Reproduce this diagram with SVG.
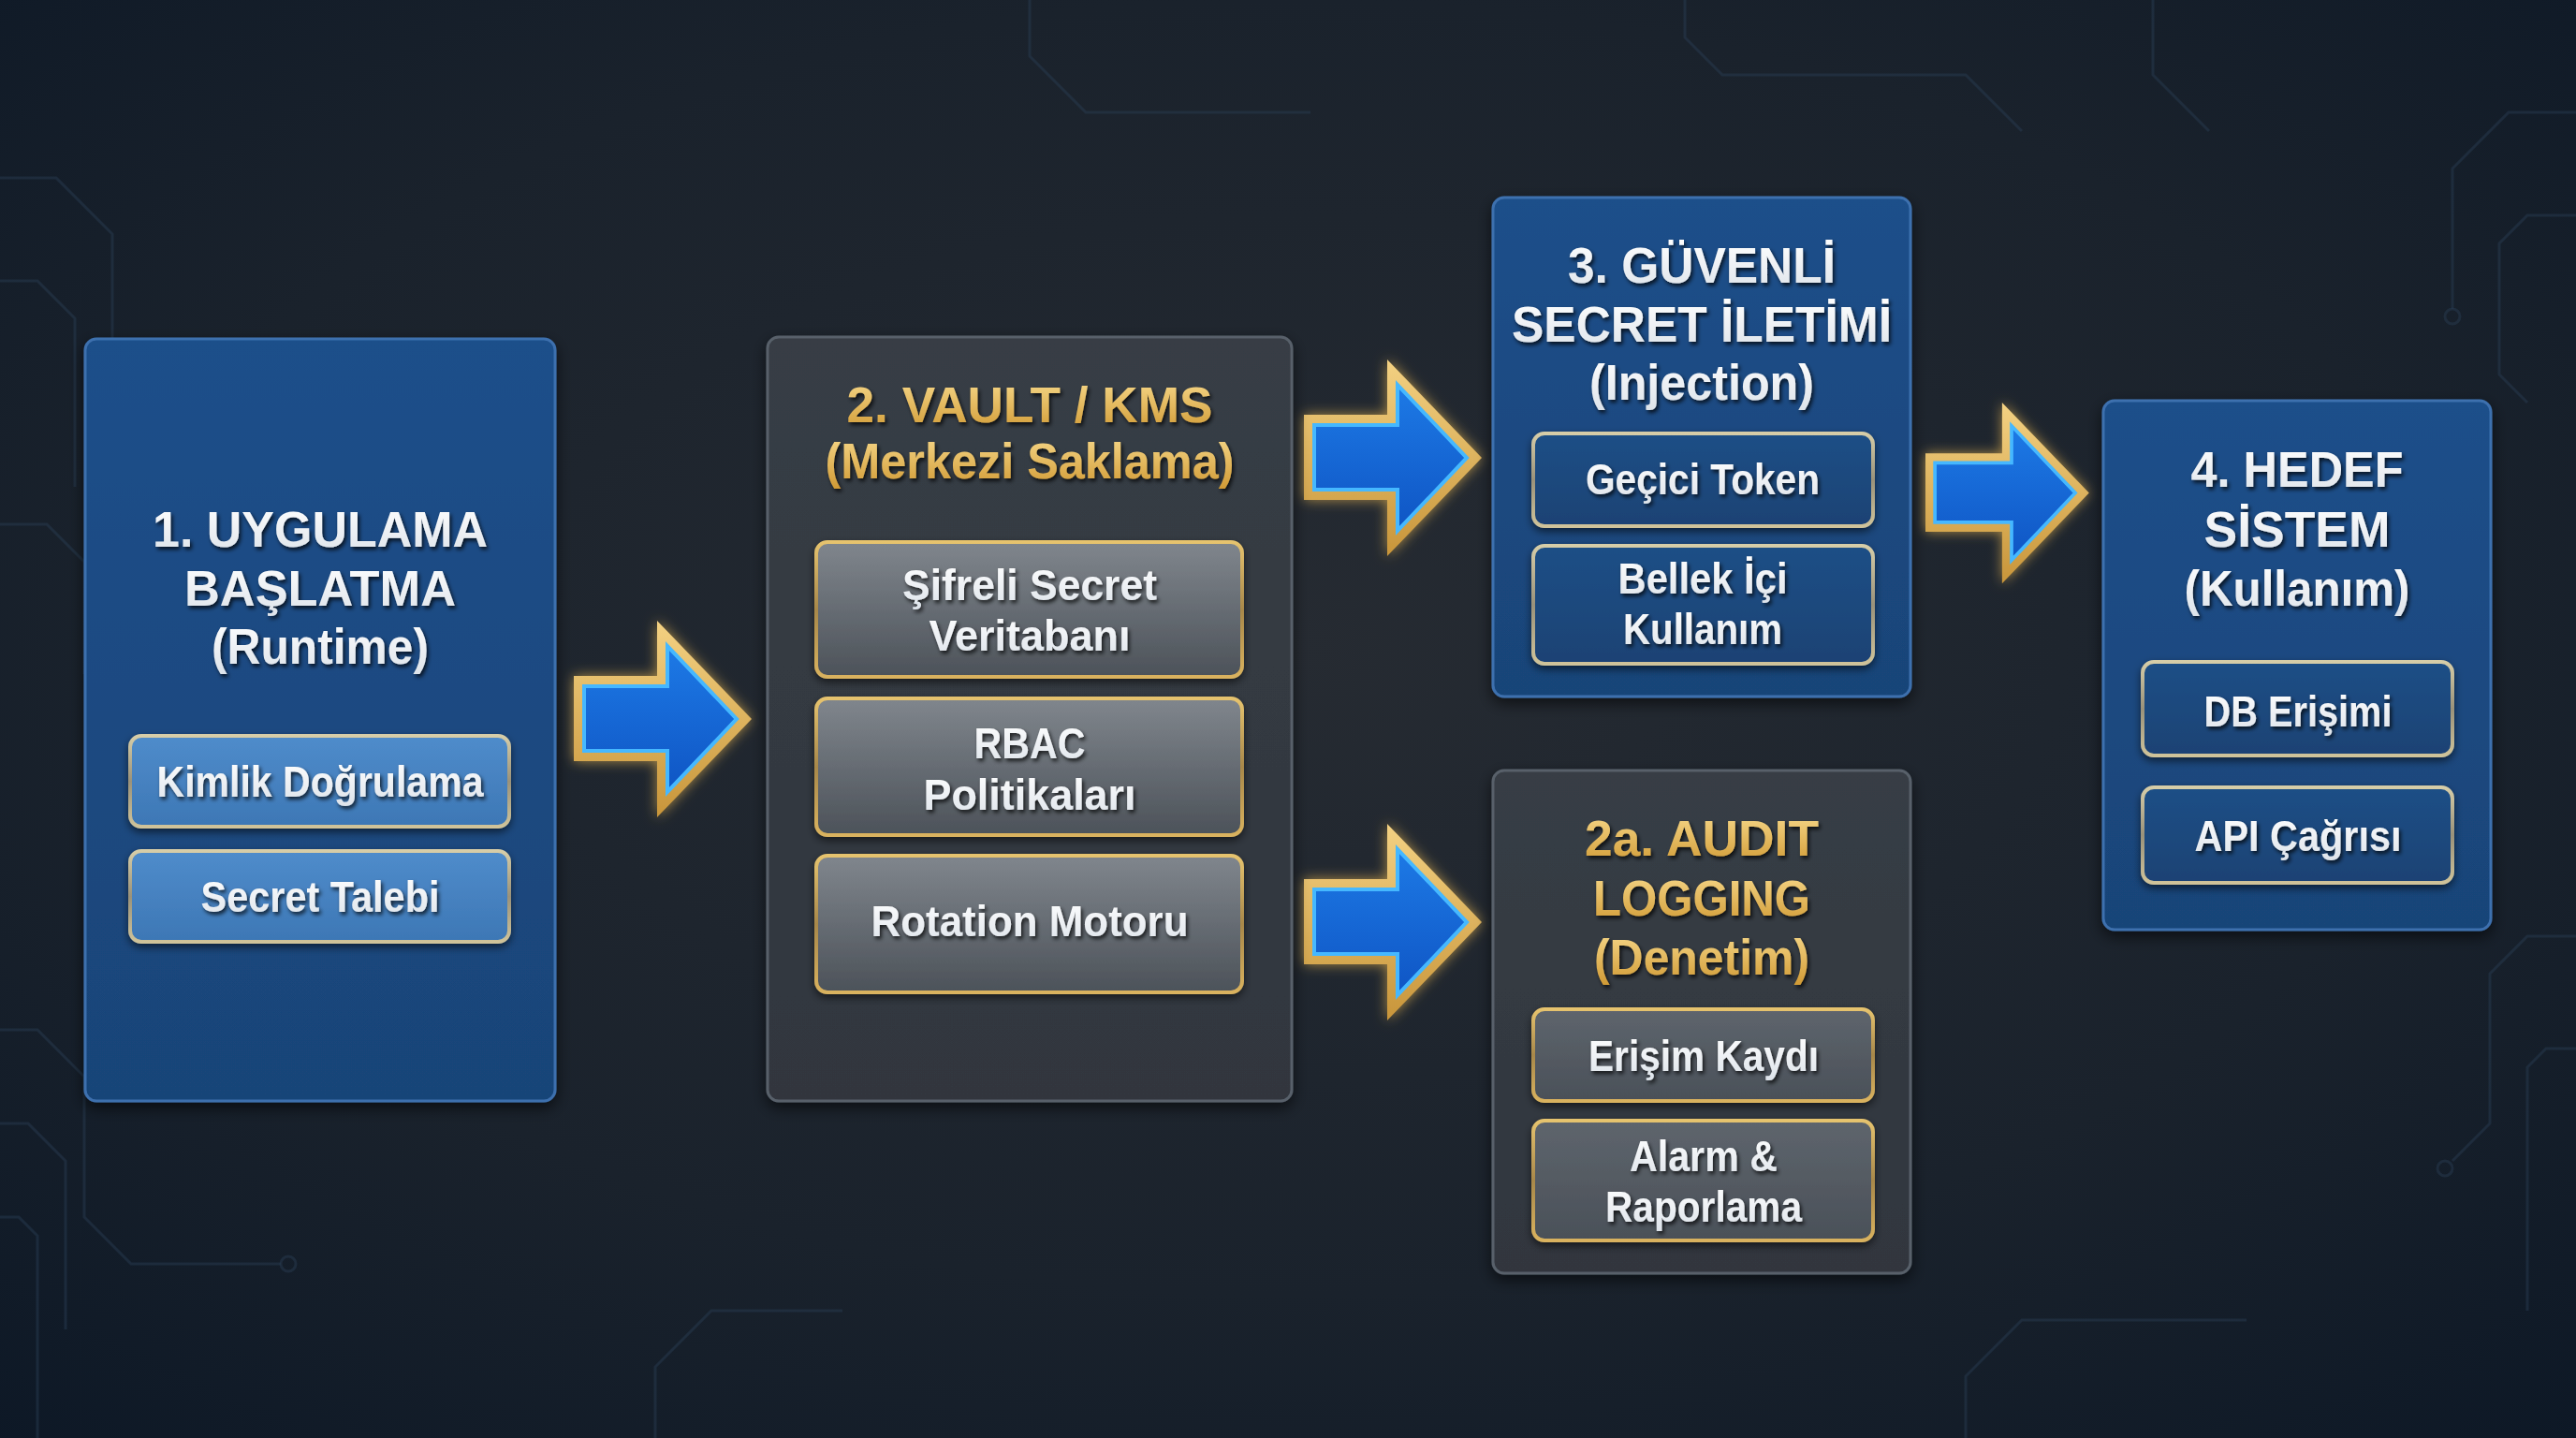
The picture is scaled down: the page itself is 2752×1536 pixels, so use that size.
<svg xmlns="http://www.w3.org/2000/svg" width="2752" height="1536" viewBox="0 0 2752 1536">
<defs>
  <radialGradient id="bg" cx="0.5" cy="0.45" r="0.75">
    <stop offset="0" stop-color="#262b32"/>
    <stop offset="0.6" stop-color="#1a222c"/>
    <stop offset="1" stop-color="#0d1826"/>
  </radialGradient>
  <linearGradient id="blueNode" x1="0" y1="0" x2="0" y2="1">
    <stop offset="0" stop-color="#1d4f8a"/>
    <stop offset="1" stop-color="#194478"/>
  </linearGradient>
  <linearGradient id="grayNode" x1="0" y1="0" x2="0" y2="1">
    <stop offset="0" stop-color="#373d45"/>
    <stop offset="1" stop-color="#30363e"/>
  </linearGradient>
  <linearGradient id="lightBlueBox" x1="0" y1="0" x2="0" y2="1">
    <stop offset="0" stop-color="#4f8ccb"/>
    <stop offset="1" stop-color="#3d77b5"/>
  </linearGradient>
  <linearGradient id="darkBlueBox" x1="0" y1="0" x2="0" y2="1">
    <stop offset="0" stop-color="#1f4f86"/>
    <stop offset="1" stop-color="#1a4274"/>
  </linearGradient>
  <linearGradient id="grayBox" x1="0" y1="0" x2="0" y2="1">
    <stop offset="0" stop-color="#80868d"/>
    <stop offset="1" stop-color="#4c5259"/>
  </linearGradient>
  <linearGradient id="grayBox2" x1="0" y1="0" x2="0" y2="1">
    <stop offset="0" stop-color="#5e656d"/>
    <stop offset="1" stop-color="#4a5058"/>
  </linearGradient>
  <linearGradient id="goldStroke" x1="0" y1="0" x2="0" y2="1">
    <stop offset="0" stop-color="#e6c36e"/>
    <stop offset="0.5" stop-color="#a8884a"/>
    <stop offset="1" stop-color="#d9b25e"/>
  </linearGradient>
  <linearGradient id="silverStroke" x1="0" y1="0" x2="0" y2="1">
    <stop offset="0" stop-color="#d6cda8"/>
    <stop offset="0.5" stop-color="#9a927a"/>
    <stop offset="1" stop-color="#cfc39a"/>
  </linearGradient>
  <linearGradient id="goldText" x1="0" y1="0" x2="0" y2="1">
    <stop offset="0" stop-color="#f8da8c"/>
    <stop offset="1" stop-color="#d09a35"/>
  </linearGradient>
  <linearGradient id="whiteText" x1="0" y1="0" x2="0" y2="1">
    <stop offset="0" stop-color="#ffffff"/>
    <stop offset="1" stop-color="#dde3ea"/>
  </linearGradient>
  <linearGradient id="arrowGold" x1="0" y1="0" x2="0" y2="1">
    <stop offset="0" stop-color="#f3d182"/>
    <stop offset="1" stop-color="#c8953a"/>
  </linearGradient>
  <linearGradient id="arrowBlue" x1="0" y1="0" x2="0" y2="1">
    <stop offset="0" stop-color="#1d7ae6"/>
    <stop offset="1" stop-color="#0f55c4"/>
  </linearGradient>
  <filter id="nodeShadow" x="-10%" y="-10%" width="120%" height="120%">
    <feDropShadow dx="0" dy="6" stdDeviation="8" flood-color="#000" flood-opacity="0.6"/>
  </filter>
  <filter id="boxShadow" x="-10%" y="-20%" width="120%" height="150%">
    <feDropShadow dx="0" dy="4" stdDeviation="4" flood-color="#000" flood-opacity="0.55"/>
  </filter>
  <filter id="textShadow" x="-10%" y="-30%" width="120%" height="160%">
    <feDropShadow dx="2" dy="3" stdDeviation="2" flood-color="#000" flood-opacity="0.75"/>
  </filter>
  <filter id="glow" x="-30%" y="-30%" width="160%" height="160%">
    <feGaussianBlur in="SourceAlpha" stdDeviation="7" result="b"/>
    <feFlood flood-color="#e7b54f" flood-opacity="0.7"/>
    <feComposite in2="b" operator="in" result="g"/>
    <feMerge><feMergeNode in="g"/><feMergeNode in="SourceGraphic"/></feMerge>
  </filter>
  <g id="arrow">
    <polygon points="0,59 89,59 89,0 190,105 89,210 89,150 0,150" fill="url(#arrowGold)" filter="url(#glow)"/>
    <polygon points="11,70 100,70 100,27 174,105 100,183 100,139 11,139" fill="url(#arrowBlue)" stroke="#45b8ff" stroke-width="4" stroke-linejoin="miter"/>
  </g>
</defs>
<style>
  .t { font-family: "Liberation Sans", Arial, sans-serif; font-weight: bold; text-anchor: middle; filter: url(#textShadow); }
  .title { font-size: 54px; }
  .sub { font-size: 46px; }
  .w { fill: url(#whiteText); }
  .g { fill: url(#goldText); }
  .trace { fill: none; stroke: #2b3d55; stroke-width: 3; opacity: 0.45; }
  .dot { fill: none; stroke: #2b3d55; stroke-width: 3; opacity: 0.45; }
</style>

<rect x="0" y="0" width="2752" height="1536" fill="url(#bg)"/>

<g id="background-traces">
  <path class="trace" d="M0,190 H60 L120,250 V420 L160,460"/>
  <circle class="dot" cx="168" cy="468" r="8"/>
  <path class="trace" d="M0,300 H40 L80,340 V520"/>
  <path class="trace" d="M0,560 H50 L90,600 V720"/>
  <path class="trace" d="M0,1100 H40 L90,1150 V1300 L140,1350 H300"/>
  <path class="trace" d="M0,1200 H30 L70,1240 V1420"/>
  <circle class="dot" cx="308" cy="1350" r="8"/>
  <path class="trace" d="M0,1300 H20 L40,1320 V1536"/>
  <path class="trace" d="M2752,120 H2680 L2620,180 V330"/>
  <circle class="dot" cx="2620" cy="338" r="8"/>
  <path class="trace" d="M2752,230 H2700 L2670,260 V400 L2700,430"/>
  <path class="trace" d="M2752,1000 H2700 L2660,1040 V1200 L2620,1240"/>
  <circle class="dot" cx="2612" cy="1248" r="8"/>
  <path class="trace" d="M2752,1120 H2720 L2700,1140 V1400"/>
  <path class="trace" d="M1100,0 V60 L1160,120 H1400"/>
  <path class="trace" d="M1800,0 V40 L1840,80 H2100 L2160,140"/>
  <path class="trace" d="M2300,0 V80 L2360,140"/>
  <path class="trace" d="M700,1536 V1460 L760,1400 H900"/>
  <path class="trace" d="M2100,1536 V1470 L2160,1410 H2400"/>
</g>

<g id="connectors">
  <use href="#arrow" transform="translate(613,663)"/>
  <use href="#arrow" transform="translate(1393,384)"/>
  <use href="#arrow" transform="translate(1393,880)"/>
  <use href="#arrow" transform="translate(2057,430) scale(0.92)"/>
</g>

<g id="node1">
  <rect x="91" y="362" width="502" height="814" rx="12" fill="url(#blueNode)" stroke="#3d70ae" stroke-width="3" filter="url(#nodeShadow)"/>
  <text class="t title w" x="342" y="584" textLength="358" lengthAdjust="spacingAndGlyphs">1. UYGULAMA</text>
  <text class="t title w" x="342" y="647" textLength="290" lengthAdjust="spacingAndGlyphs">BAŞLATMA</text>
  <text class="t title w" x="342" y="709" textLength="232" lengthAdjust="spacingAndGlyphs">(Runtime)</text>
  <g id="node1-auth">
    <rect x="139" y="786" width="405" height="97" rx="12" fill="url(#lightBlueBox)" stroke="url(#silverStroke)" stroke-width="4" filter="url(#boxShadow)"/>
    <text class="t sub w" x="342" y="851" textLength="349" lengthAdjust="spacingAndGlyphs">Kimlik Doğrulama</text>
  </g>
  <g id="node1-request">
    <rect x="139" y="909" width="405" height="97" rx="12" fill="url(#lightBlueBox)" stroke="url(#silverStroke)" stroke-width="4" filter="url(#boxShadow)"/>
    <text class="t sub w" x="342" y="974" textLength="255" lengthAdjust="spacingAndGlyphs">Secret Talebi</text>
  </g>
</g>

<g id="node2">
  <rect x="820" y="360" width="560" height="816" rx="12" fill="url(#grayNode)" stroke="#58616b" stroke-width="3" filter="url(#nodeShadow)"/>
  <text class="t title g" x="1100" y="451" font-size="52" textLength="391" lengthAdjust="spacingAndGlyphs">2. VAULT / KMS</text>
  <text class="t title g" x="1100" y="511" font-size="52" textLength="437" lengthAdjust="spacingAndGlyphs">(Merkezi Saklama)</text>
  <g id="node2-db">
    <rect x="872" y="579" width="455" height="144" rx="12" fill="url(#grayBox)" stroke="url(#goldStroke)" stroke-width="4" filter="url(#boxShadow)"/>
    <text class="t sub w" x="1100" y="641" textLength="272" lengthAdjust="spacingAndGlyphs">Şifreli Secret</text>
    <text class="t sub w" x="1100" y="695" textLength="215" lengthAdjust="spacingAndGlyphs">Veritabanı</text>
  </g>
  <g id="node2-rbac">
    <rect x="872" y="746" width="455" height="146" rx="12" fill="url(#grayBox)" stroke="url(#goldStroke)" stroke-width="4" filter="url(#boxShadow)"/>
    <text class="t sub w" x="1100" y="810" textLength="119" lengthAdjust="spacingAndGlyphs">RBAC</text>
    <text class="t sub w" x="1100" y="865" textLength="227" lengthAdjust="spacingAndGlyphs">Politikaları</text>
  </g>
  <g id="node2-rotation">
    <rect x="872" y="914" width="455" height="146" rx="12" fill="url(#grayBox)" stroke="url(#goldStroke)" stroke-width="4" filter="url(#boxShadow)"/>
    <text class="t sub w" x="1100" y="1000" textLength="339" lengthAdjust="spacingAndGlyphs">Rotation Motoru</text>
  </g>
</g>

<g id="node3">
  <rect x="1595" y="211" width="446" height="533" rx="12" fill="url(#blueNode)" stroke="#3d70ae" stroke-width="3" filter="url(#nodeShadow)"/>
  <text class="t title w" x="1818" y="302" textLength="286" lengthAdjust="spacingAndGlyphs">3. GÜVENLİ</text>
  <text class="t title w" x="1818" y="365" textLength="406" lengthAdjust="spacingAndGlyphs">SECRET İLETİMİ</text>
  <text class="t title w" x="1818" y="427" textLength="240" lengthAdjust="spacingAndGlyphs">(Injection)</text>
  <g id="node3-token">
    <rect x="1638" y="463" width="363" height="99" rx="12" fill="url(#darkBlueBox)" stroke="url(#silverStroke)" stroke-width="4" filter="url(#boxShadow)"/>
    <text class="t sub w" x="1819" y="528" textLength="250" lengthAdjust="spacingAndGlyphs">Geçici Token</text>
  </g>
  <g id="node3-memory">
    <rect x="1638" y="583" width="363" height="126" rx="12" fill="url(#darkBlueBox)" stroke="url(#silverStroke)" stroke-width="4" filter="url(#boxShadow)"/>
    <text class="t sub w" x="1819" y="634" textLength="181" lengthAdjust="spacingAndGlyphs">Bellek İçi</text>
    <text class="t sub w" x="1819" y="688" textLength="170" lengthAdjust="spacingAndGlyphs">Kullanım</text>
  </g>
</g>

<g id="node2a">
  <rect x="1595" y="823" width="446" height="537" rx="12" fill="url(#grayNode)" stroke="#58616b" stroke-width="3" filter="url(#nodeShadow)"/>
  <text class="t title g" x="1818" y="914" textLength="250" lengthAdjust="spacingAndGlyphs">2a. AUDIT</text>
  <text class="t title g" x="1818" y="978" textLength="232" lengthAdjust="spacingAndGlyphs">LOGGING</text>
  <text class="t title g" x="1818" y="1041" textLength="230" lengthAdjust="spacingAndGlyphs">(Denetim)</text>
  <g id="node2a-access">
    <rect x="1638" y="1078" width="363" height="98" rx="12" fill="url(#grayBox2)" stroke="url(#goldStroke)" stroke-width="4" filter="url(#boxShadow)"/>
    <text class="t sub w" x="1820" y="1144" textLength="246" lengthAdjust="spacingAndGlyphs">Erişim Kaydı</text>
  </g>
  <g id="node2a-alarm">
    <rect x="1638" y="1197" width="363" height="128" rx="12" fill="url(#grayBox2)" stroke="url(#goldStroke)" stroke-width="4" filter="url(#boxShadow)"/>
    <text class="t sub w" x="1820" y="1251" textLength="158" lengthAdjust="spacingAndGlyphs">Alarm &amp;</text>
    <text class="t sub w" x="1820" y="1305" textLength="210" lengthAdjust="spacingAndGlyphs">Raporlama</text>
  </g>
</g>

<g id="node4">
  <rect x="2247" y="428" width="414" height="565" rx="12" fill="url(#blueNode)" stroke="#3d70ae" stroke-width="3" filter="url(#nodeShadow)"/>
  <text class="t title w" x="2454" y="520" textLength="227" lengthAdjust="spacingAndGlyphs">4. HEDEF</text>
  <text class="t title w" x="2454" y="584" textLength="199" lengthAdjust="spacingAndGlyphs">SİSTEM</text>
  <text class="t title w" x="2454" y="647" textLength="241" lengthAdjust="spacingAndGlyphs">(Kullanım)</text>
  <g id="node4-db">
    <rect x="2289" y="707" width="331" height="100" rx="12" fill="url(#darkBlueBox)" stroke="url(#silverStroke)" stroke-width="4" filter="url(#boxShadow)"/>
    <text class="t sub w" x="2455" y="776" textLength="201" lengthAdjust="spacingAndGlyphs">DB Erişimi</text>
  </g>
  <g id="node4-api">
    <rect x="2289" y="841" width="331" height="102" rx="12" fill="url(#darkBlueBox)" stroke="url(#silverStroke)" stroke-width="4" filter="url(#boxShadow)"/>
    <text class="t sub w" x="2455" y="909" textLength="221" lengthAdjust="spacingAndGlyphs">API Çağrısı</text>
  </g>
</g>
</svg>
